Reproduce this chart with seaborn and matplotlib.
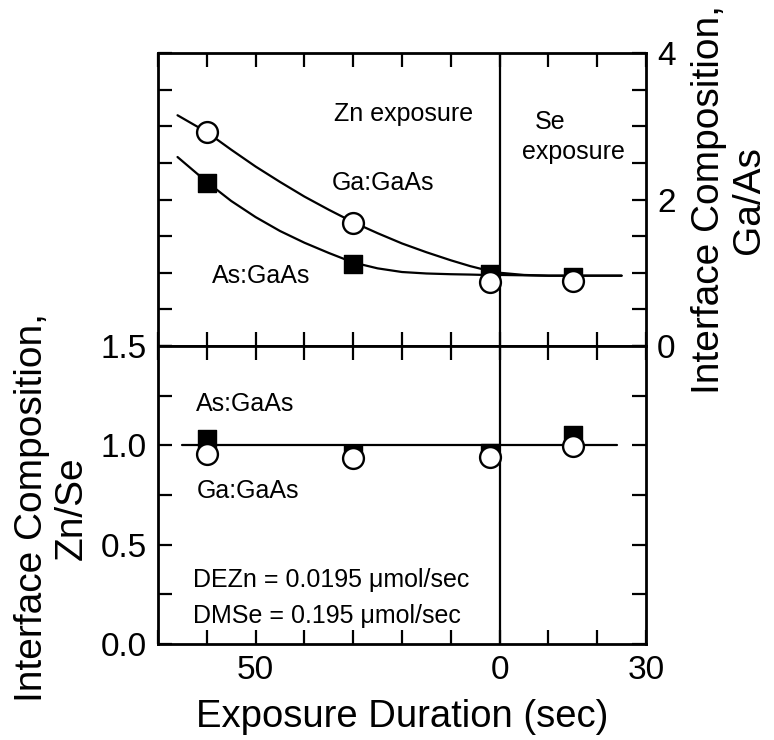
import matplotlib
matplotlib.use("Agg")
import matplotlib.pyplot as plt
import seaborn as sns
import pandas as pd

# ---- data (x: negative = Zn exposure duration, positive = Se exposure duration) ----
t_pts = [-60, -30, -2, 15]
ga_top = [2.92, 1.68, 0.88, 0.89]
as_top = [2.22, 1.12, 0.98, 0.94]
as_bot = [1.03, 0.955, 0.96, 1.05]
ga_bot = [0.955, 0.935, 0.94, 0.995]

# fitted curves
curve_t = [-66, -60, -55, -50, -45, -40, -35, -30, -25, -20, -15, -10, -6, -3, 0, 5, 10, 25]
ga_curve = [3.15, 2.92, 2.68, 2.45, 2.24, 2.04, 1.86, 1.69, 1.54, 1.40, 1.28, 1.17, 1.09, 1.04, 1.00, 0.97, 0.96, 0.96]
as_curve = [2.58, 2.24, 1.98, 1.76, 1.57, 1.41, 1.27, 1.14, 1.06, 1.01, 0.99, 0.98, 0.975, 0.97, 0.97, 0.965, 0.96, 0.96]

ref_t = [-65, 24]
ref_val = [1.0, 1.0]

x_ticks = list(range(-70, 31, 10))
x_labels = {-50: "50", 0: "0", 30: "30"}
top_yticks = [0, 0.5, 1, 1.5, 2, 2.5, 3, 3.5, 4]
top_ylabels = {0: "0", 2: "2", 4: "4"}
bot_yticks = [0, 0.25, 0.5, 0.75, 1.0, 1.25, 1.5]
bot_ylabels = {0: "0.0", 0.5: "0.5", 1.0: "1.0", 1.5: "1.5"}

sns.set_theme(style="ticks")
plt.rcParams["font.family"] = ["Liberation Sans", "DejaVu Sans"]
plt.rcParams["text.color"] = "black"
plt.rcParams["axes.labelcolor"] = "black"
plt.rcParams["xtick.color"] = "black"
plt.rcParams["ytick.color"] = "black"
plt.rcParams["xtick.labelcolor"] = "black"
plt.rcParams["ytick.labelcolor"] = "black"

W, H = 774, 740
fig = plt.figure(figsize=(W / 100, H / 100), dpi=100)
L, R = 158 / W, 646 / W
y_top, y_mid, y_bot = 53, 346, 644
ax_t = fig.add_axes([L, 1 - y_mid / H, R - L, (y_mid - y_top) / H])
ax_b = fig.add_axes([L, 1 - y_bot / H, R - L, (y_bot - y_mid) / H])

top_df = pd.DataFrame({"t": t_pts, "ga": ga_top, "as_": as_top})
bot_df = pd.DataFrame({"t": t_pts, "ga": ga_bot, "as_": as_bot})
curve_df = pd.DataFrame({"t": curve_t, "ga": ga_curve, "as_": as_curve})
ref_df = pd.DataFrame({"t": ref_t, "v": ref_val})

lw = 1.6
for ax in (ax_t, ax_b):
    ax.set_facecolor("white")
    for sp in ax.spines.values():
        sp.set_visible(True)
        sp.set_linewidth(2.0)
        sp.set_color("black")
    ax.axvline(0, color="black", lw=1.6, zorder=2)
    ax.set_xlim(-70, 30)
    ax.set_xticks(x_ticks)
    ax.tick_params(axis="both", which="major", direction="in", length=10, width=1.6,
                   top=True, bottom=True, left=True, right=True, color="black",
                   labelsize=24, pad=8, labelcolor="black")

# top panel
sns.lineplot(data=curve_df, x="t", y="ga", ax=ax_t, color="black", lw=lw, sort=False,
             estimator=None, zorder=3)
sns.lineplot(data=curve_df, x="t", y="as_", ax=ax_t, color="black", lw=lw, sort=False,
             estimator=None, zorder=3)
sns.scatterplot(data=top_df, x="t", y="as_", ax=ax_t, marker="s", s=180, color="black",
                edgecolor="black", linewidth=1.0, zorder=4)
sns.scatterplot(data=top_df, x="t", y="ga", ax=ax_t, marker="o", s=225, color="white",
                edgecolor="black", linewidth=1.7, zorder=5)
ax_t.set_ylim(0, 4)
ax_t.set_yticks(top_yticks)
ax_t.set_yticklabels([top_ylabels.get(v, "") for v in top_yticks])
ax_t.tick_params(axis="y", labelleft=False, labelright=True)
ax_t.tick_params(axis="x", labelbottom=False, labeltop=False)
ax_t.set_xlabel("")
ax_t.set_ylabel("")

# bottom panel
sns.lineplot(data=ref_df, x="t", y="v", ax=ax_b, color="black", lw=lw, estimator=None, zorder=3)
sns.scatterplot(data=bot_df, x="t", y="as_", ax=ax_b, marker="s", s=180, color="black",
                edgecolor="black", linewidth=1.0, zorder=4)
sns.scatterplot(data=bot_df, x="t", y="ga", ax=ax_b, marker="o", s=225, color="white",
                edgecolor="black", linewidth=1.7, zorder=5)
ax_b.set_ylim(0, 1.5)
ax_b.set_yticks(bot_yticks)
ax_b.set_yticklabels([bot_ylabels.get(v, "") for v in bot_yticks])
ax_b.set_xticklabels([x_labels.get(v, "") for v in x_ticks])
ax_b.tick_params(axis="y", labelleft=True, labelright=False)
ax_b.tick_params(axis="x", labelbottom=True, labeltop=False)
ax_b.set_xlabel("Exposure Duration (sec)", fontsize=27.5, labelpad=9, color="black")
ax_b.set_ylabel("")

fs = 18
ax_t.text(-19.7, 3.17, "Zn exposure", fontsize=fs, ha="center", va="center")
ax_t.text(10.4, 3.06, "Se", fontsize=fs, ha="center", va="center")
ax_t.text(15.2, 2.65, "exposure", fontsize=fs, ha="center", va="center")
ax_t.text(-23.8, 2.22, "Ga:GaAs", fontsize=fs, ha="center", va="center")
ax_t.text(-48.8, 0.95, "As:GaAs", fontsize=fs, ha="center", va="center")
ax_b.text(-52.2, 1.21, "As:GaAs", fontsize=fs, ha="center", va="center")
ax_b.text(-51.5, 0.77, "Ga:GaAs", fontsize=fs, ha="center", va="center")
ax_b.text(-62.9, 0.32, "DEZn = 0.0195 \u03bcmol/sec", fontsize=fs, ha="left", va="center")
ax_b.text(-62.9, 0.14, "DMSe = 0.195 \u03bcmol/sec", fontsize=fs, ha="left", va="center")

fig.text(52 / W, 1 - 508 / H, "Interface Composition,\nZn/Se", rotation=90, fontsize=28,
         ha="center", va="center", multialignment="center", linespacing=1.15)
fig.text(729 / W, 1 - 200 / H, "Interface Composition,\nGa/As", rotation=90, fontsize=28,
         ha="center", va="center", multialignment="center", linespacing=1.15)

fig.savefig("out.png", dpi=100, facecolor="white")
